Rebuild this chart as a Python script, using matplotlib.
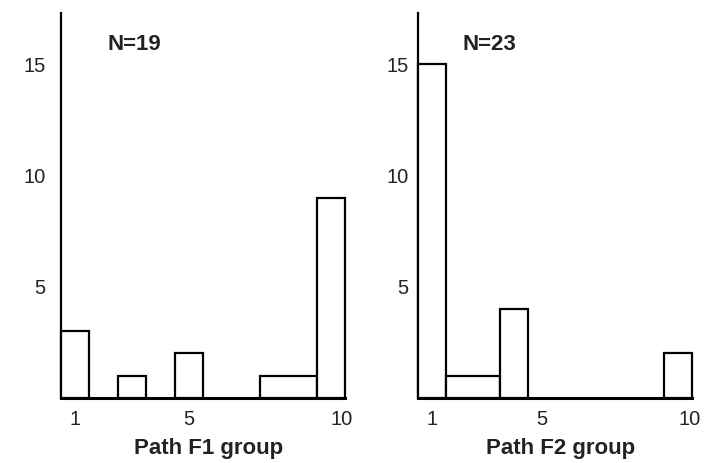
import numpy as np
import matplotlib
matplotlib.use('Agg')
import matplotlib.pyplot as plt

plt.rcParams['font.family'] = ['Liberation Sans', 'DejaVu Sans']

# Path F1 group histogram (bar centres, counts, bin widths)
f1_x = [1, 3, 5, 8.5, 10]
f1_counts = [3, 1, 2, 1, 9]
f1_widths = [1, 1, 1, 2, 1]

# Path F2 group histogram
f2_x = [1, 2.5, 4, 10]
f2_counts = [15, 1, 4, 2]
f2_widths = [1, 2, 1, 1]

x_ticks = [1, 5, 10]
y_ticks = [5, 10, 15]

fig = plt.figure(figsize=(7.09, 4.63), dpi=100)
ax1 = fig.add_axes([0.086, 0.1404, 0.4006, 0.8315])
ax2 = fig.add_axes([0.590, 0.1404, 0.3856, 0.8315])

panels = [
    (ax1, f1_x, f1_counts, f1_widths, 'N=19', 'Path F1 group', 11),
    (ax2, f2_x, f2_counts, f2_widths, 'N=23', 'Path F2 group', 7),
]

for ax, x, counts, widths, ntext, xlabel, ypad in panels:
    bars = ax.bar(x, counts, width=widths, facecolor='white', edgecolor='black',
                  linewidth=1.6, zorder=3)
    for b in bars:
        b.set_clip_on(False)
    ax.set_xlim(0.5, 10.5)
    ax.set_ylim(0, 17.3)
    for side in ['top', 'right']:
        ax.spines[side].set_visible(False)
    ax.spines['left'].set_linewidth(1.6)
    ax.spines['bottom'].set_linewidth(2.2)
    ax.set_xticks(x_ticks)
    ax.set_yticks(y_ticks)
    ax.tick_params(axis='x', length=0, pad=9, labelsize=14.5, labelcolor='#222222')
    ax.tick_params(axis='y', length=0, pad=ypad, labelsize=14.5, labelcolor='#222222')
    ax.get_xticklabels()[-1].set_horizontalalignment('left')
    ax.set_xlabel(xlabel, fontsize=16, fontweight='bold', color='#222222')
    ax.xaxis.set_label_coords(0.52, -0.105)
    ax.text(3.1, 15.9, ntext, fontsize=16, fontweight='bold', ha='center',
            va='center', color='#222222')

fig.savefig('out.png', dpi=100)
